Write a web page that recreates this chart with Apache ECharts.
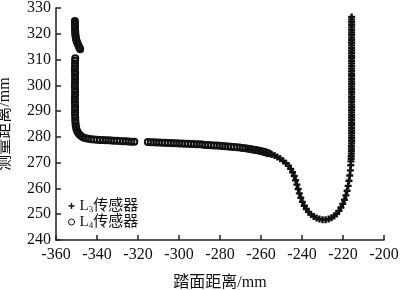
<!DOCTYPE html>
<html><head><meta charset="utf-8">
<script src="https://cdn.jsdelivr.net/npm/echarts@6/dist/echarts.min.js"></script>
<style>html,body{margin:0;padding:0;background:#fff}#c{width:400px;height:290px}</style>
</head><body><div id="c"></div>
<script>
// Axis settings
const xMin = -360, xMax = -200, xStep = 20;
const yMin = 240, yMax = 330, yStep = 10;
const seriesNames = ['L3传感器', 'L4传感器'];
const xTitle = '踏面距离/mm';
const yTitle = '测量距离/mm';

// L4 sensor (circles) – upper short segment
const l4Upper = [[-350.8,325],[-350.8,324.3],[-350.8,323.6],[-350.7,322.9],[-350.7,322.2],[-350.7,321.5],[-350.6,320.8],[-350.6,320.1],[-350.5,319.4],[-350.4,318.7],[-350.2,318],[-350,317.3],[-349.7,316.6],[-349.3,315.9],[-348.9,315.2],[-348.5,314.5],[-348.2,314]];
// L4 sensor – left vertical and first flat part
const l4Left = [[-350.6,310.5],[-350.7,309.5],[-350.7,308.5],[-350.7,307.5],[-350.8,306.5],[-350.8,305.5],[-350.7,304.5],[-350.7,303.5],[-350.7,302.5],[-350.7,301.5],[-350.8,300.5],[-350.8,299.5],[-350.7,298.5],[-350.7,297.5],[-350.7,296.5],[-350.8,295.5],[-350.8,294.5],[-350.8,293.5],[-350.7,292.5],[-350.7,291.5],[-350.7,290.5],[-350.7,289.5],[-350.7,288.5],[-350.6,287.5],[-350.6,286.5],[-350.5,285.5],[-350.4,284.5],[-350.2,283.6],[-349.9,282.7],[-349.4,281.8],[-348.7,281],[-347.8,280.3],[-346.7,279.8],[-345.5,279.5],[-344.2,279.3],[-342.8,279.1],[-341.4,279],[-340,278.9],[-338.6,278.8],[-337.2,278.8],[-335.8,278.7],[-334.4,278.7],[-333,278.6],[-331.6,278.5],[-330.2,278.5],[-328.8,278.4],[-327.4,278.3],[-326,278.3],[-324.6,278.2],[-323.2,278.1],[-321.8,278.1]];
// L4 sensor – second flat part
const l4Mid = [[-315.2,278.0],[-313.8,277.9],[-312.4,277.9],[-311,277.8],[-309.6,277.8],[-308.2,277.7],[-306.8,277.7],[-305.4,277.6],[-304,277.6],[-302.6,277.5],[-301.2,277.5],[-299.8,277.4],[-298.4,277.4],[-297,277.3],[-295.6,277.3],[-294.2,277.2],[-292.8,277.2],[-291.4,277.1],[-290,277.1],[-288.6,277.0],[-287.2,276.9],[-285.8,276.9],[-284.4,276.8],[-283,276.7],[-281.6,276.7],[-280.2,276.6],[-278.8,276.5],[-277.4,276.4],[-276,276.3],[-274.6,276.2],[-273.2,276.1],[-271.8,276.0],[-270.4,275.9],[-269,275.7],[-267.6,275.6],[-266.2,275.4],[-264.8,275.2],[-263.4,275.0],[-262,274.8],[-260.6,274.6],[-259.2,274.3],[-257.8,274.0],[-256.4,273.7]];
// L3 sensor (plus) – dip
const l3Curve = [[-266,275.4],[-264.6,275.2],[-263.2,275.0],[-261.8,274.8],[-260.4,274.5],[-259,274.2],[-257.6,273.9],[-256.2,273.6],[-254.8,273.2],[-253.4,272.8],[-252,272.2],[-250.6,271.5],[-249.2,270.7],[-247.8,269.8],[-246.6,268.8],[-245.5,267.6],[-244.6,266.3],[-243.8,264.8],[-243.1,263.2],[-242.5,261.5],[-241.9,259.8],[-241.3,258.1],[-240.6,256.4],[-239.8,254.8],[-238.9,253.3],[-237.9,252],[-236.8,250.9],[-235.6,249.9],[-234.3,249.1],[-232.9,248.5],[-231.5,248.1],[-230,247.9],[-228.5,247.9],[-227,248.1],[-225.6,248.6],[-224.3,249.3],[-223.1,250.2],[-222,251.3],[-221,252.6],[-220.1,254],[-219.3,255.6],[-218.6,257.3],[-218,259.1],[-217.5,261],[-217.1,263],[-216.7,265],[-216.4,267],[-216.2,269]];
// L3 sensor – right vertical
const l3Right = [[-216.1,270.5],[-216,271.5],[-216,272.5],[-215.9,273.5],[-215.9,274.5],[-215.9,275.5],[-215.9,276.5],[-215.8,277.5],[-215.8,278.5],[-215.8,279.5],[-215.8,280.5],[-215.8,281.5],[-215.8,282.5],[-215.8,283.5],[-215.8,284.5],[-215.8,285.5],[-215.8,286.5],[-215.8,287.5],[-215.8,288.5],[-215.8,289.5],[-215.8,290.5],[-215.8,291.5],[-215.8,292.5],[-215.8,293.5],[-215.8,294.5],[-215.8,295.5],[-215.8,296.5],[-215.8,297.5],[-215.8,298.5],[-215.8,299.5],[-215.8,300.5],[-215.8,301.5],[-215.8,302.5],[-215.8,303.5],[-215.8,304.5],[-215.8,305.5],[-215.8,306.5],[-215.8,307.5],[-215.8,308.5],[-215.8,309.5],[-215.8,310.5],[-215.8,311.5],[-215.8,312.5],[-215.8,313.5],[-215.8,314.5],[-215.8,315.5],[-215.8,316.5],[-215.8,317.5],[-215.8,318.5],[-215.8,319.5],[-215.8,320.5],[-215.8,321.5],[-215.8,322.5],[-215.8,323.5],[-215.8,324.5],[-215.8,325.5],[-215.8,326.5]];

const FONT = "'Liberation Serif','Noto Sans CJK SC',serif";
const INK = '#111';
const plusPath = 'path://M2.3,0h2.4v2.3h2.3v2.4h-2.3v2.3h-2.4v-2.3h-2.3v-2.4h2.3z';
const plusIcon = 'path://M2.5,0h1.5v2.5h2.5v1.5h-2.5v2.5h-1.5v-2.5h-2.5v-1.5h2.5z';

const chart = echarts.init(document.getElementById('c'), null, {renderer:'canvas'});
chart.setOption({
  backgroundColor: '#fff',
  animation: false,
  grid: {left: 56, right: 16, top: 8, bottom: 50, containLabel: false, outerBoundsMode: 'none'},
  legend: {
    orient: 'vertical', left: 63, top: 193, itemGap: 0, itemWidth: 6, itemHeight: 6,
    data: [
      {name: seriesNames[0], icon: plusIcon},
      {name: seriesNames[1], icon: 'circle', itemStyle: {color: '#fff', borderColor: '#111', borderWidth: 1}}
    ],
    formatter: function(name){
      const sub = name.charAt(1);
      return '{a|L}{s|' + sub + '}{a|' + name.slice(2) + '}';
    },
    textStyle: {
      color: INK, fontFamily: FONT, fontSize: 15, lineHeight: 16,
      rich: {
        a: {fontFamily: FONT, fontSize: 15, color: INK, lineHeight: 16},
        s: {fontFamily: FONT, fontSize: 9, color: INK, lineHeight: 16, padding: [7,0,0,0]}
      }
    }
  },
  xAxis: {
    type: 'value', min: xMin, max: xMax, interval: xStep,
    name: xTitle, nameLocation: 'middle', nameGap: 35,
    nameTextStyle: {fontFamily: FONT, fontSize: 16, color: INK},
    axisLine: {show: true, onZero: false, lineStyle: {color: '#222', width: 1.5}},
    axisTick: {show: true, inside: true, length: 5, lineStyle: {color: '#222', width: 1.5}},
    axisLabel: {fontFamily: FONT, fontSize: 16, color: INK, margin: 7},
    splitLine: {show: false}
  },
  yAxis: {
    type: 'value', min: yMin, max: yMax, interval: yStep,
    name: yTitle, nameLocation: 'middle', nameGap: 43,
    nameTextStyle: {fontFamily: FONT, fontSize: 16, color: INK},
    axisLine: {show: true, onZero: false, lineStyle: {color: '#222', width: 1.5}},
    axisTick: {show: true, inside: true, length: 5, lineStyle: {color: '#222', width: 1.5}},
    axisLabel: {fontFamily: FONT, fontSize: 16, color: INK, margin: 5},
    splitLine: {show: false}
  },
  series: [
    {
      name: seriesNames[0], type: 'scatter', symbol: plusPath, symbolSize: 7,
      itemStyle: {color: '#111', opacity: 1},
      data: l3Curve.concat(l3Right)
    },
    {
      name: seriesNames[1], type: 'scatter', symbol: 'circle', symbolSize: 6,
      itemStyle: {color: 'rgba(255,255,255,0)', borderColor: '#111', borderWidth: 2, opacity: 1},
      data: l4Upper.concat(l4Left, l4Mid)
    }
  ]
});
</script></body></html>
